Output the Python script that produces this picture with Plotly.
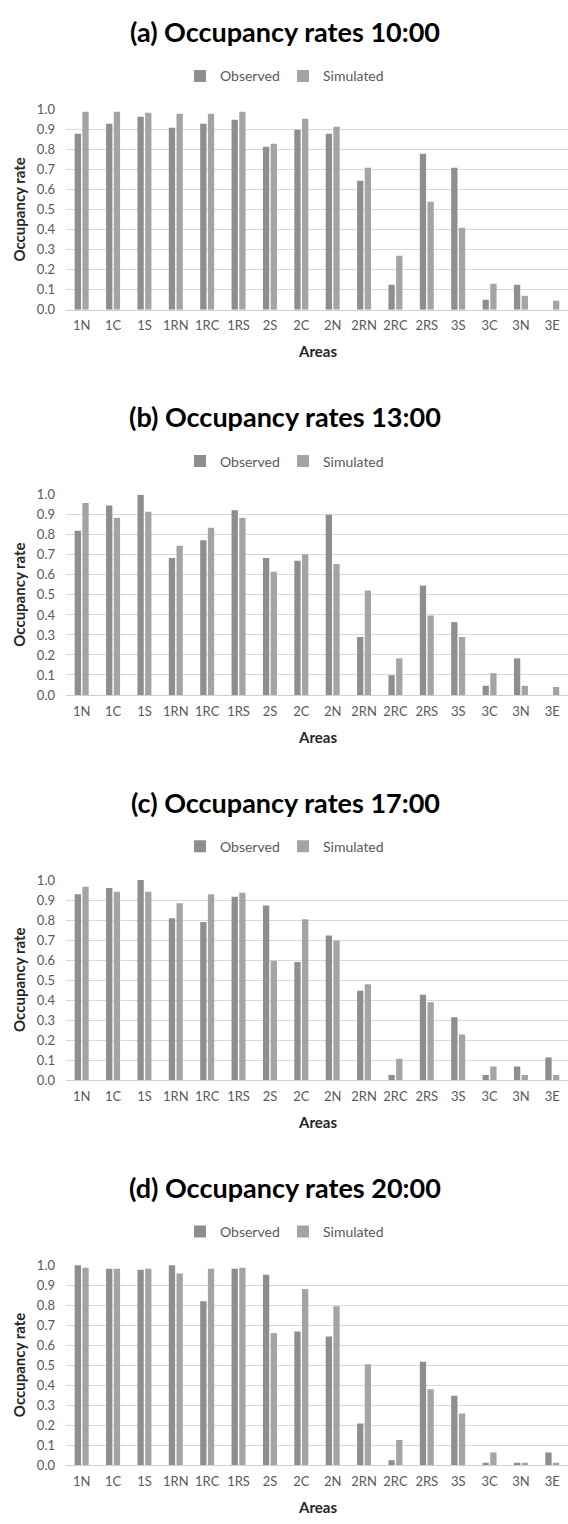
import plotly.graph_objects as go

areas = ["1N", "1C", "1S", "1RN", "1RC", "1RS", "2S", "2C", "2N", "2RN", "2RC", "2RS", "3S", "3C", "3N", "3E"]

panel_titles = ["(a) Occupancy rates 10:00", "(b) Occupancy rates 13:00",
                "(c) Occupancy rates 17:00", "(d) Occupancy rates 20:00"]

observed_10 = [0.88, 0.93, 0.965, 0.91, 0.93, 0.95, 0.815, 0.90, 0.88, 0.645, 0.125, 0.78, 0.71, 0.05, 0.125, 0.0]
simulated_10 = [0.99, 0.99, 0.985, 0.98, 0.98, 0.99, 0.83, 0.955, 0.915, 0.71, 0.27, 0.54, 0.41, 0.13, 0.07, 0.045]

observed_13 = [0.82, 0.947, 1.0, 0.684, 0.773, 0.923, 0.684, 0.671, 0.901, 0.29, 0.099, 0.547, 0.364, 0.046, 0.183, 0.0]
simulated_13 = [0.959, 0.885, 0.916, 0.746, 0.835, 0.885, 0.616, 0.703, 0.654, 0.522, 0.183, 0.397, 0.29, 0.109, 0.046, 0.04]

observed_17 = [0.929, 0.96, 1.0, 0.809, 0.79, 0.917, 0.873, 0.591, 0.723, 0.447, 0.026, 0.427, 0.315, 0.026, 0.069, 0.114]
simulated_17 = [0.967, 0.942, 0.942, 0.884, 0.929, 0.936, 0.597, 0.804, 0.698, 0.479, 0.107, 0.389, 0.228, 0.069, 0.026, 0.026]

observed_20 = [1.0, 0.982, 0.977, 1.0, 0.82, 0.982, 0.952, 0.669, 0.644, 0.209, 0.026, 0.518, 0.348, 0.013, 0.013, 0.065]
simulated_20 = [0.988, 0.982, 0.982, 0.959, 0.982, 0.988, 0.662, 0.882, 0.795, 0.505, 0.127, 0.381, 0.26, 0.065, 0.013, 0.013]

y_ticks = [0.0, 0.1, 0.2, 0.3, 0.4, 0.5, 0.6, 0.7, 0.8, 0.9, 1.0]
y_tick_labels = ["0.0", "0.1", "0.2", "0.3", "0.4", "0.5", "0.6", "0.7", "0.8", "0.9", "1.0"]

observed_sets = [observed_10, observed_13, observed_17, observed_20]
simulated_sets = [simulated_10, simulated_13, simulated_17, simulated_20]

W, H = 568, 1524
FONT = "Lato"
OBS_COLOR = "#8e8e8e"
SIM_COLOR = "#a4a4a4"
TICK_COLOR = "#595959"
GRID_COLOR = "#d9d9d9"

PITCH = 389.3
PLOT_TOP = 102.3
PLOT_BOT = 305.0
PLOT_LEFT = 66.0

fig = go.Figure()
layout = dict(
    width=W, height=H,
    margin=dict(l=0, r=0, t=0, b=0),
    paper_bgcolor="white", plot_bgcolor="white",
    barmode="group", bargap=0.51, bargroupgap=0.18,
    font=dict(family=FONT, color=TICK_COLOR),
    annotations=[],
)

def py(px):
    return 1 - px / H

for k in range(4):
    sfx = "" if k == 0 else str(k + 1)
    xa, ya, lg = "x" + sfx, "y" + sfx, "legend" + sfx
    fig.add_trace(go.Bar(x=areas, y=observed_sets[k], name="Observed",
                         marker=dict(color=OBS_COLOR, line=dict(width=0)),
                         xaxis=xa, yaxis=ya, legend=lg))
    fig.add_trace(go.Bar(x=areas, y=simulated_sets[k], name="Simulated",
                         marker=dict(color=SIM_COLOR, line=dict(width=0)),
                         xaxis=xa, yaxis=ya, legend=lg))
    off = k * PITCH
    layout["xaxis" + sfx] = dict(
        domain=[PLOT_LEFT / W, 1.0], anchor=ya, type="category",
        range=[-0.5, 15.5], showgrid=False, showline=True, linecolor="#d0d0d0",
        linewidth=1, ticks="", tickfont=dict(family=FONT, size=13, color=TICK_COLOR),
        ticklabelstandoff=4, fixedrange=True,
    )
    layout["yaxis" + sfx] = dict(
        domain=[py(PLOT_BOT + off), py(PLOT_TOP + off)], anchor=xa,
        range=[0, 1.002], tickvals=y_ticks, ticktext=y_tick_labels,
        showgrid=True, gridcolor=GRID_COLOR, gridwidth=1, zeroline=False,
        showline=False, ticks="", tickfont=dict(family=FONT, size=13, color=TICK_COLOR),
        ticklabelstandoff=10, fixedrange=True,
    )
    layout[lg] = dict(
        orientation="h", x=283 / W, xanchor="center", y=py(69 + off), yanchor="middle",
        font=dict(family=FONT, size=14, color=TICK_COLOR), bgcolor="rgba(0,0,0,0)",
        itemwidth=30, traceorder="normal", entrywidth=58, entrywidthmode="pixels",
    )
    layout["annotations"].append(dict(
        text="<b>" + panel_titles[k] + "</b>", x=285 / W, xref="paper", y=py(24 + off), yref="paper",
        xanchor="center", yanchor="middle", showarrow=False,
        font=dict(family=FONT, size=27, color="#000000")))
    layout["annotations"].append(dict(
        text="<b>Areas</b>", x=(PLOT_LEFT + W) / 2 / W, xref="paper", y=py(347 + off), yref="paper",
        xanchor="center", yanchor="middle", showarrow=False,
        font=dict(family=FONT, size=15, color="#262626")))
    layout["annotations"].append(dict(
        text="<b>Occupancy rate</b>", x=19 / W, xref="paper",
        y=py((PLOT_TOP + PLOT_BOT) / 2 + off), yref="paper",
        xanchor="center", yanchor="middle", textangle=-90, showarrow=False,
        font=dict(family=FONT, size=15, color="#262626")))

fig.update_layout(**layout)
fig.write_html("out.html", config={"displayModeBar": False},
               post_script="document.body.style.margin='0';")
